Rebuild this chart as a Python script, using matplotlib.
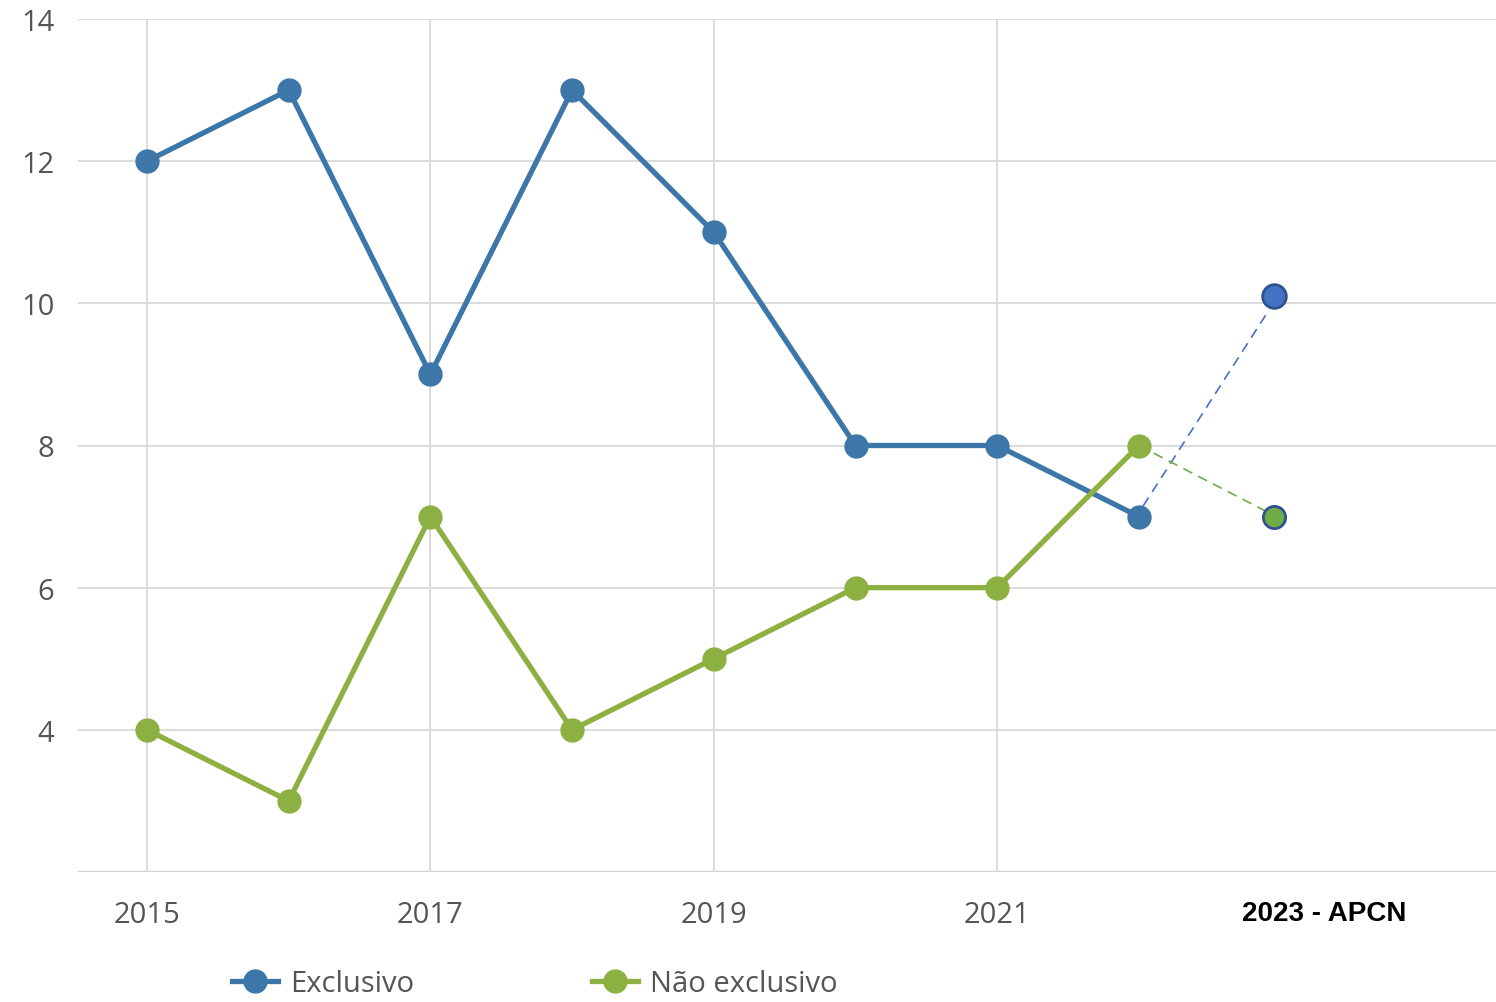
import matplotlib
matplotlib.use("Agg")
import matplotlib.pyplot as plt
from matplotlib.lines import Line2D

years = [2015, 2016, 2017, 2018, 2019, 2020, 2021, 2022]
exclusivo = [12, 13, 9, 13, 11, 8, 8, 7]
nao_exclusivo = [4, 3, 7, 4, 5, 6, 6, 8]
proj_year = 2023
proj_exclusivo = 10.1
proj_nao_exclusivo = 7
yticks = [4, 6, 8, 10, 12, 14]
xticks = [2015, 2017, 2019, 2021]
proj_label = "2023 - APCN"

plt.rcParams['font.family'] = ['Open Sans', 'DejaVu Sans']

blue = '#3d76a8'
green = '#8cb142'
blue_p = '#4472c4'
green_p = '#70ad47'
edge_p = '#2f528f'

fig = plt.figure(figsize=(14.96, 10.03), dpi=100)
ax = fig.add_axes([78/1496, 1-873/1003, 1-78/1496, (873-20)/1003])
ax.set_xlim(2014.513, 2024.52)
ax.set_ylim(2, 14)

for s in ax.spines.values():
    s.set_visible(False)
ax.axhline(2, color='#cfcfcf', lw=1.6, zorder=1)
for y in yticks:
    ax.axhline(y, color='#dcdcdc', lw=1.4, zorder=1)
for x in xticks:
    ax.axvline(x, color='#dcdcdc', lw=1.4, zorder=1)

ax.plot(years, exclusivo, color=blue, lw=3.8, marker='o', ms=16.5, zorder=3, solid_capstyle='round')
ax.plot(years, nao_exclusivo, color=green, lw=3.8, marker='o', ms=16.5, zorder=3, solid_capstyle='round')

ax.plot([years[-1] + 0.03, proj_year - 0.1], [exclusivo[-1] + 0.15, proj_exclusivo - 0.25], color=blue_p, lw=1.2,
        ls=(0, (6, 4)), zorder=2)
ax.plot([years[-1], proj_year - 0.08], [nao_exclusivo[-1], proj_nao_exclusivo + 0.05], color=green_p, lw=1.2,
        ls=(0, (6, 4)), zorder=2)
ax.plot([proj_year - 0.05], [proj_exclusivo], 'o', ms=17, mfc=blue_p, mec=edge_p, mew=2, zorder=4)
ax.plot([proj_year - 0.05], [proj_nao_exclusivo], 'o', ms=16, mfc=green_p, mec=edge_p, mew=2, zorder=4)

ax.set_xticks(xticks)
ax.set_xticklabels([str(x) for x in xticks])
ax.set_yticks(yticks)
ax.tick_params(axis='both', length=0, labelsize=21, labelcolor='#555555')
ax.tick_params(axis='y', pad=17)
ax.tick_params(axis='x', pad=20)

ax.text(2023.31, 2 - 0.58, proj_label, ha='center', va='center', fontsize=20, fontweight='bold',
        color='black', family=['Liberation Sans', 'DejaVu Sans'])

handles = [Line2D([], [], color=blue, lw=3.8, marker='o', ms=16.5),
           Line2D([], [], color=green, lw=3.8, marker='o', ms=16.5)]
fig.legend(handles, ['Exclusivo', 'Não exclusivo'], loc='center left',
           bbox_to_anchor=(232/1496, 1-985/1003), ncol=2, frameon=False,
           fontsize=21, labelcolor='#555555', handlelength=1.58, handletextpad=0.41,
           columnspacing=6.1, borderpad=0, borderaxespad=0)

fig.savefig('out.png', dpi=100, facecolor='white')
